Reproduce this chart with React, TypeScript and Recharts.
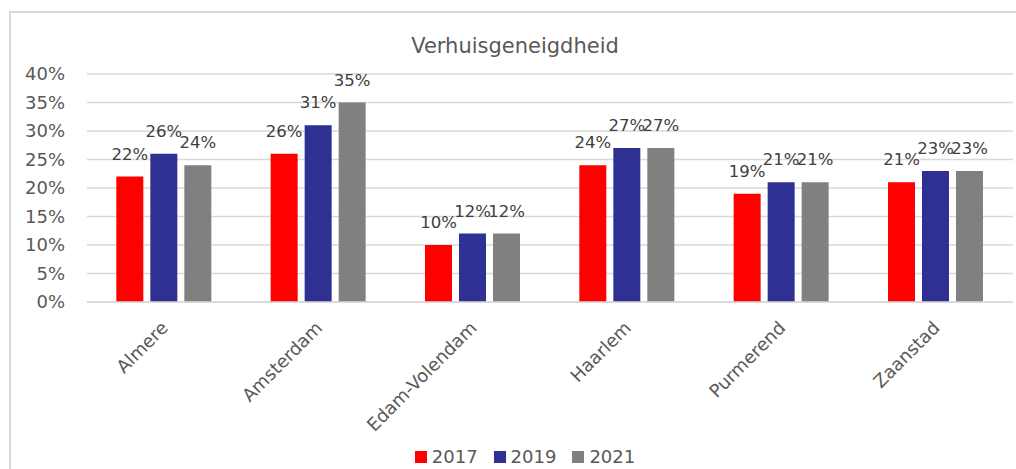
import React from 'react'
import { Bar, BarChart, CartesianGrid, LabelList, XAxis, YAxis } from 'recharts';

// DATA
const gemeenten = ['Almere', 'Amsterdam', 'Edam-Volendam', 'Haarlem', 'Purmerend', 'Zaanstad'];
const jaar2017 = [22, 26, 10, 24, 19, 21];
const jaar2019 = [26, 31, 12, 27, 21, 23];
const jaar2021 = [24, 35, 12, 27, 21, 23];
const yTicks = [0, 5, 10, 15, 20, 25, 30, 35, 40];

const FONT = '"DejaVu Sans", sans-serif';
const TEXT = '#595959';

const SERIES = [
    { key: 'y2017', name: '2017', color: '#ff0000' },
    { key: 'y2019', name: '2019', color: '#2e3192' },
    { key: 'y2021', name: '2021', color: '#808080' },
];

const data = gemeenten.map((g, i) => ({ name: g, y2017: jaar2017[i], y2019: jaar2019[i], y2021: jaar2021[i] }));

const renderXTick = ({ x, y, payload }: any) => (
    <text x={x + 5} y={y + 19} fill={TEXT} fontSize={18} fontFamily={FONT}
        textAnchor="end" transform={`rotate(-45, ${x + 5}, ${y + 19})`}>
        {payload.value}
    </text>
);

export default function App() {
    return (
        <div style={{ position: 'absolute', left: 0, top: 0, width: 1016, height: 469, background: '#fff', overflow: 'hidden' }}>
            <div style={{ position: 'absolute', left: 9, top: 11, width: 1020, height: 480, border: '2px solid #d9d9d9' }} />
            <div style={{ position: 'absolute', left: 0, top: 34, width: 1030, textAlign: 'center', fontFamily: FONT, fontSize: 21, color: TEXT }}>
                Verhuisgeneigdheid
            </div>
            <BarChart width={1016} height={469} data={data} barCategoryGap="19%" barGap={7}
                margin={{ top: 74, right: 3, bottom: 0, left: 0 }} style={{ position: 'absolute', left: 0, top: 0 }}>
                <CartesianGrid vertical={false} stroke="#d9d9d9" strokeWidth={1.5} />
                <XAxis dataKey="name" axisLine={{ stroke: '#d9d9d9', strokeWidth: 1.5 }} tickLine={false}
                    interval={0} tick={renderXTick} height={167} />
                <YAxis width={87} domain={[0, 40]} ticks={yTicks} axisLine={false} tickLine={false}
                    tickSize={0} tickMargin={22} tickFormatter={(v: number) => `${v}%`}
                    tick={{ fill: TEXT, fontSize: 18, fontFamily: FONT }} />
                {SERIES.map(s => (
                    <Bar key={s.key} dataKey={s.key} name={s.name} fill={s.color} isAnimationActive={false}>
                        <LabelList dataKey={s.key} position="top" offset={17} formatter={(v: any) => `${v}%`}
                            style={{ fill: '#404040', fontSize: 16.5, fontFamily: FONT }} />
                    </Bar>
                ))}
            </BarChart>
            <div style={{ position: 'absolute', top: 446, left: 0, width: 1050, display: 'flex', justifyContent: 'center', fontFamily: FONT, fontSize: 18, color: TEXT }}>
                {SERIES.map(s => (
                    <span key={s.key} style={{ display: 'flex', alignItems: 'center', margin: '0 8px' }}>
                        <span style={{ width: 12, height: 12, background: s.color, marginRight: 5, display: 'inline-block' }} />
                        {s.name}
                    </span>
                ))}
            </div>
        </div>
    )
}
